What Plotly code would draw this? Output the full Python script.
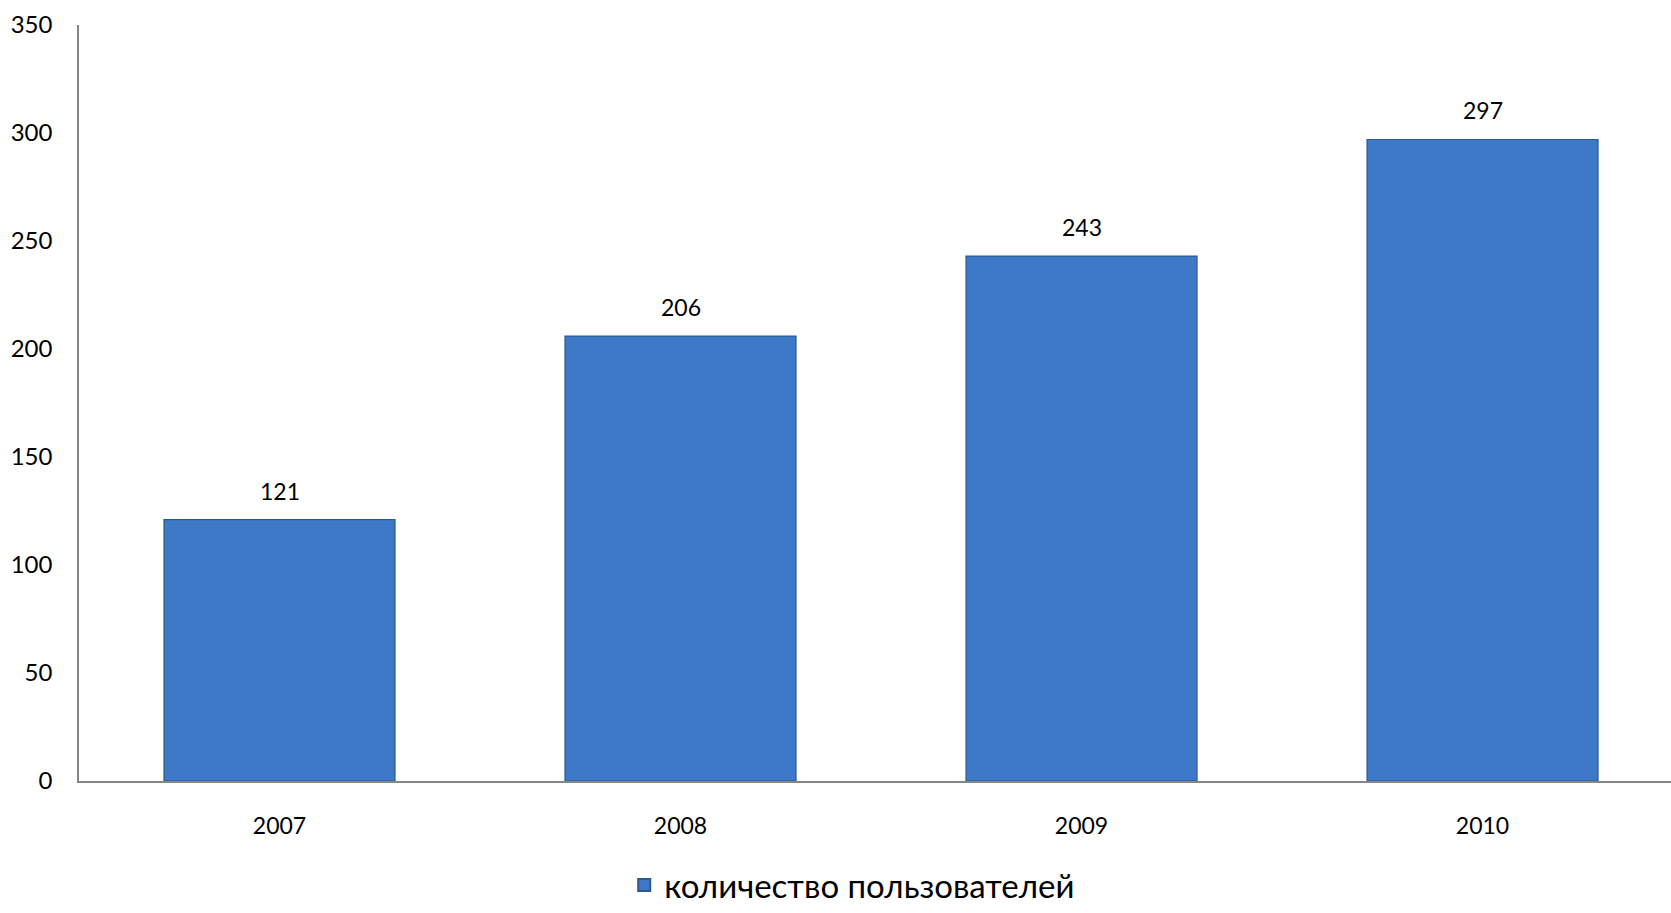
import plotly.graph_objects as go

years = ["2007", "2008", "2009", "2010"]
users = [121, 206, 243, 297]
series_name = "количество пользователей"
y_ticks = [0, 50, 100, 150, 200, 250, 300, 350]

FONT = "Lato"

fig = go.Figure()
fig.add_trace(go.Bar(
    x=years, y=users, name=series_name,
    width=0.576,
    marker=dict(color="#3e79c7", line=dict(color="#2b5895", width=1.2)),
    showlegend=True,
))

for i, v in enumerate(users):
    fig.add_annotation(x=i, y=v, text=str(v), showarrow=False,
                       xref="x", yref="y",
                       yanchor="bottom", yshift=13,
                       font=dict(family=FONT, size=23, color="#000000"))

fig.update_layout(
    width=1671, height=913,
    margin=dict(l=79, r=0, t=25, b=132),
    paper_bgcolor="white", plot_bgcolor="white",
    font=dict(family=FONT, color="#000000"),
    showlegend=True,
    legend=dict(orientation="h", xref="container", yref="container",
                x=0.51, xanchor="center", y=0.0, yanchor="bottom",
                font=dict(family=FONT, size=33, color="#000000"),
                itemsizing="constant"),
    bargap=0.424,
)
fig.update_xaxes(
    type="category", range=[-0.5, 3.47],
    showline=True, linecolor="#868686", linewidth=1.5,
    ticks="", showgrid=False, zeroline=False,
    tickfont=dict(family=FONT, size=23, color="#000000"),
    ticklabelstandoff=24,
)
fig.update_yaxes(
    range=[0, 350], tickvals=y_ticks,
    showline=True, linecolor="#868686", linewidth=1.5,
    ticks="", showgrid=False, zeroline=False,
    tickfont=dict(family=FONT, size=24, color="#000000"),
    ticklabelstandoff=20,
)

fig.write_html("out.html")
